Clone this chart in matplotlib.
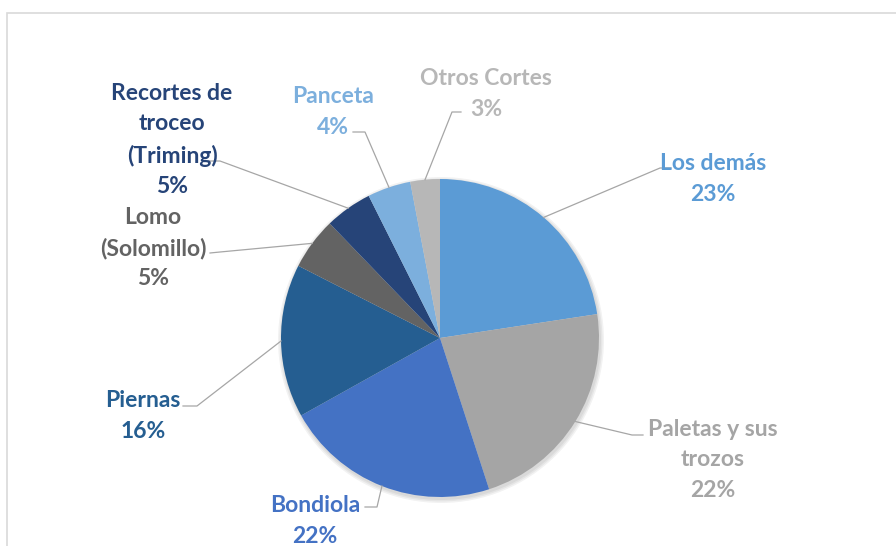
import matplotlib.pyplot as plt
from matplotlib.patches import Rectangle, Circle
import numpy as np

# ===== data =====
categories = ["Los demás", "Paletas y sus\ntrozos", "Bondiola", "Piernas",
              "Lomo\n(Solomillo)", "Recortes de\ntroceo\n(Triming)", "Panceta", "Otros Cortes"]
values = [22.6, 22.4, 21.9, 15.6, 5.3, 4.8, 4.4, 3.0]
colors = ["#5B9BD5", "#A5A5A5", "#4472C4", "#255E91",
          "#636363", "#264478", "#7CAFDD", "#B7B7B7"]

# label layout (pixel coords of the picture, y from top)
label_xy = [(713, 179), (713, 460), (315, 521), (143, 416),
            (153, 248), (172, 140), (333, 112), (486, 94)]
elbow_xy = [(660, 168), (632, 435), (377, 507), (197, 406),
            (220, 252), (220, 161), (365, 132), (452, 112)]
end_xy = [(671, 168), (643, 435), (365, 507), (183, 406),
          (210, 253), (208, 161), (353, 132), (461, 112)]

W, H = 896, 546
cx, cy, r = 440, 338, 159

plt.rcParams['font.family'] = ['Lato', 'DejaVu Sans']

fig = plt.figure(figsize=(W / 100, H / 100), dpi=100)
ax = fig.add_axes([0, 0, 1, 1])
ax.axis("off")

# chart frame
ax.add_patch(Rectangle((7, -10), W + 20, H - 13 + 10, fill=False,
                       edgecolor="#D9D9D9", linewidth=1.2))

# soft shadow
for i in range(3):
    ax.add_patch(Circle((cx + 1, H - cy - 2), r + 1 + i * 1.5, color="black",
                        alpha=0.05, linewidth=0, zorder=1))

wedges, _ = ax.pie(values, colors=colors, startangle=90, counterclock=False,
                   center=(cx, H - cy), radius=r,
                   wedgeprops=dict(linewidth=0, zorder=2))
ax.set_xlim(0, W)
ax.set_ylim(0, H)
ax.set_aspect("equal")

for w, name, v, col, lxy, exy, nxy in zip(wedges, categories, values, colors,
                                         label_xy, elbow_xy, end_xy):
    ang = np.deg2rad((w.theta1 + w.theta2) / 2)
    sx = cx + r * np.cos(ang)
    sy = (H - cy) + r * np.sin(ang)
    ax.plot([sx, exy[0], nxy[0]], [sy, H - exy[1], H - nxy[1]],
            color="#A6A6A6", linewidth=0.9, zorder=3)
    ax.text(lxy[0], H - lxy[1], f"{name}\n{round(v):.0f}%", color=col,
            fontsize=16.5, fontweight="bold", ha="center", va="center",
            linespacing=1.55, zorder=4)

fig.savefig("out.png", dpi=100)
